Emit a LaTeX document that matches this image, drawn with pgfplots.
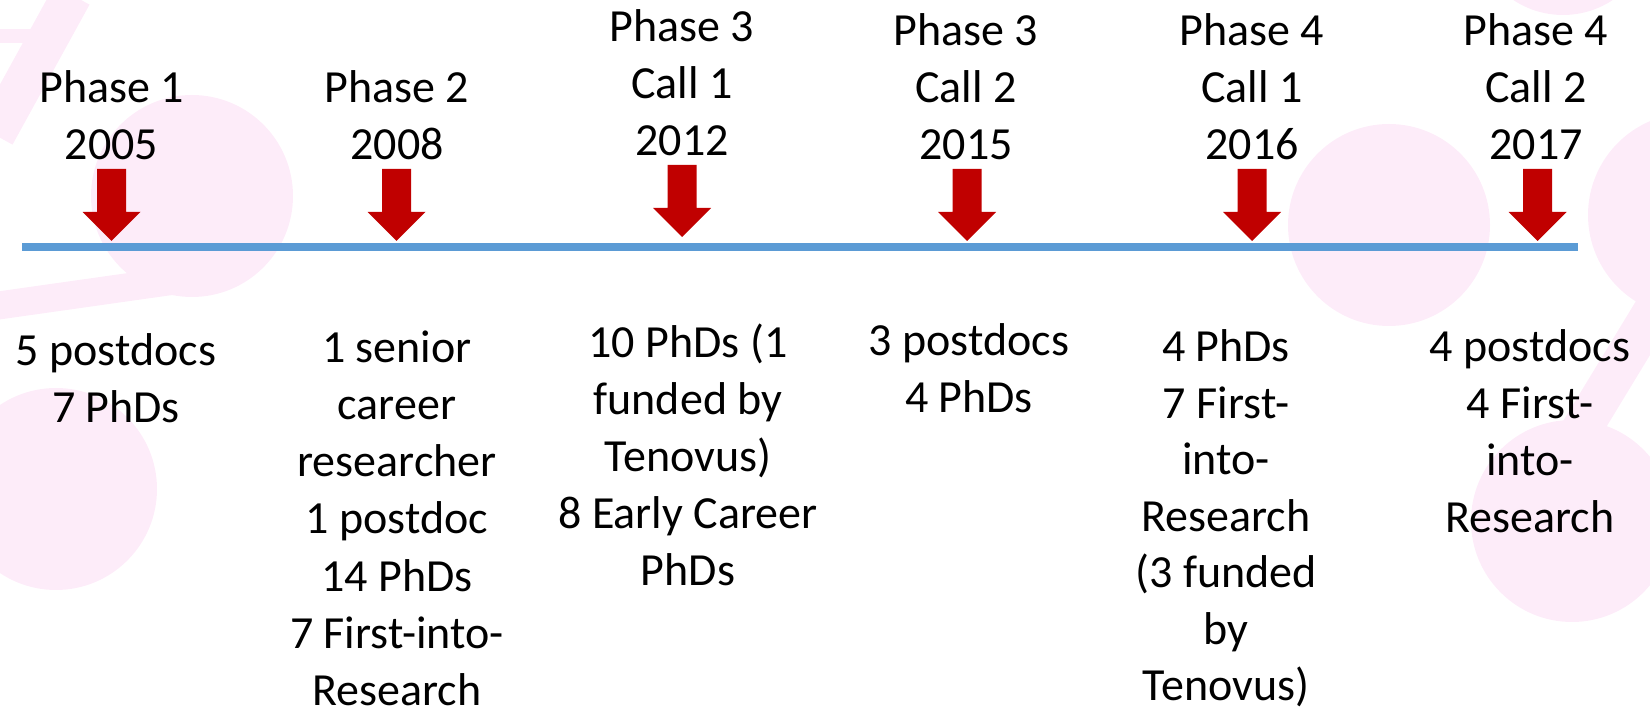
\documentclass[border=0pt]{standalone}
\usepackage{pgfplots}
\pgfplotsset{compat=1.18}
\usepackage{fontspec}
\setmainfont{Carlito}
\definecolor{arrowred}{RGB}{192,0,0}
\definecolor{lineblue}{RGB}{91,155,213}
\definecolor{wm}{RGB}{253,236,249}
\newcommand\lab{\fontsize{23}{28}\selectfont}
\begin{document}
\begin{tikzpicture}
\begin{axis}[
  width=825pt, height=357.5pt, scale only axis,
  xmin=0, xmax=1650, ymin=0, ymax=715, y dir=reverse,
  hide axis, clip=true,
]
% faint watermark in the background
\fill[wm] (axis cs:192,196) circle[radius=50.5pt];
\fill[wm] (axis cs:56,489) circle[radius=50.5pt];
\fill[wm] (axis cs:1389,225) circle[radius=50.5pt];
\fill[wm] (axis cs:1572,521) circle[radius=50.5pt];
\fill[wm] (axis cs:1690,215) circle[radius=51pt];
\fill[wm] (axis cs:1563,-75) circle[radius=45pt];
\draw[wm, line width=20pt] (axis cs:72,-5) -- (axis cs:-5,135);
\draw[wm, line width=7pt] (axis cs:0,36) -- (axis cs:54,36);
\draw[wm, line width=14pt] (axis cs:-5,306) -- (axis cs:235,272);
\draw[wm, line width=20pt] (axis cs:1660,300) -- (axis cs:1575,440);

% timeline
\addplot[lineblue, line width=4pt, line cap=butt] coordinates {(22,247.5) (1578,247.5)};

% arrows
\addplot[fill=arrowred, draw=none] coordinates {(97,169)(126,169)(126,212)(140.5,212)(111.5,241)(82.5,212)(97,212)};
\addplot[fill=arrowred, draw=none] coordinates {(382,169)(411,169)(411,212)(425.5,212)(396.5,241)(367.5,212)(382,212)};
\addplot[fill=arrowred, draw=none] coordinates {(667.5,165)(696.5,165)(696.5,208)(711,208)(682,237)(653,208)(667.5,208)};
\addplot[fill=arrowred, draw=none] coordinates {(952.5,169)(981.5,169)(981.5,212)(996,212)(967,241)(938,212)(952.5,212)};
\addplot[fill=arrowred, draw=none] coordinates {(1237.5,169)(1266.5,169)(1266.5,212)(1281,212)(1252,241)(1223,212)(1237.5,212)};
\addplot[fill=arrowred, draw=none] coordinates {(1523,169)(1552,169)(1552,212)(1566.5,212)(1537.5,241)(1508.5,212)(1523,212)};

% labels above
\addplot[draw=none, mark=none, nodes near coords, point meta=explicit symbolic,
  nodes near coords style={anchor=base, inner sep=0pt, font=\lab, text=black}]
  coordinates {
  (111.5,103) [Phase 1] (111.5,160) [2005]
  (397,103) [Phase 2] (397,160) [2008]
  (682,42) [Phase 3] (682,99) [Call 1] (682,156) [2012]
  (966,46) [Phase 3] (966,103) [Call 2] (966,160) [2015]
  (1252,46) [Phase 4] (1252,103) [Call 1] (1252,160) [2016]
  (1536,46) [Phase 4] (1536,103) [Call 2] (1536,160) [2017]
  };

% labels below
\addplot[draw=none, mark=none, nodes near coords, point meta=explicit symbolic,
  nodes near coords style={anchor=base, inner sep=0pt, font=\lab, text=black}]
  coordinates {
  (116,366) [5 postdocs] (116,423) [7 PhDs]
  (397,363) [1 senior] (397,420) [career] (397,477) [researcher] (397,534) [1 postdoc]
  (397,592) [14 PhDs] (397,649) [7 First-into-] (397,706) [Research]
  (688,358) [{10 PhDs (1}] (688,415) [funded by] (688,472) [{Tenovus)}] (688,529) [8 Early Career] (688,586) [PhDs]
  (969,356) [3 postdocs] (969,413) [4 PhDs]
  (1226,362) [4 PhDs] (1226,418.5) [7 First-] (1226,475) [into-] (1226,531.5) [Research]
  (1226,588) [{(3 funded}] (1226,644.5) [by] (1226,701) [{Tenovus)}]
  (1530,362) [4 postdocs] (1530,419) [4 First-] (1530,476) [into-] (1530,533) [Research]
  };
\end{axis}
\pgfresetboundingbox
\useasboundingbox (current axis.south west) rectangle (current axis.north east);
\end{tikzpicture}
\end{document}
